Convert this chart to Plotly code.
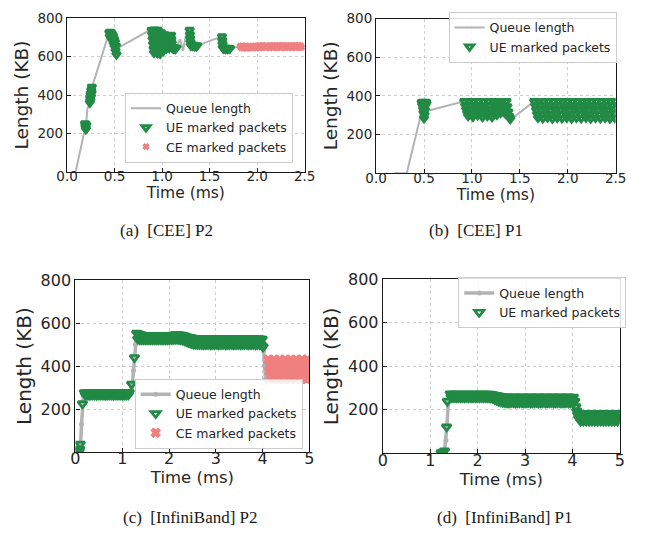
import plotly.graph_objects as go

FONT = "DejaVu Sans"
SERIF = "Liberation Serif"
GRAY = "#b3b3b6"
GREEN = "#218a45"
RED = "#f08080"

# ---------------- (a) [CEE] P2 ----------------
a_queue_t = [0.09, 0.19, 0.20, 0.215, 0.245, 0.265, 0.43, 0.46, 0.52, 0.88, 0.915, 0.925, 0.95, 0.955,
             0.98, 0.99, 1.015, 1.025, 1.045, 1.06, 1.075, 1.095, 1.15, 1.19, 1.22, 1.25, 1.29, 1.30,
             1.37, 1.60, 1.63, 1.64, 1.72, 1.80, 2.50]
a_queue_kb = [0, 230, 250, 330, 360, 445, 705, 725, 640, 740, 620, 740, 618, 738,
              615, 725, 630, 715, 642, 700, 645, 712, 646, 690, 630, 710, 738, 658,
              657, 700, 705, 648, 643, 652, 652]

a_ue_t = [0.190, 0.193, 0.196, 0.199, 0.202,
          0.240, 0.243, 0.246, 0.249, 0.252, 0.255, 0.258, 0.261,
          0.445, 0.450, 0.455, 0.460, 0.465, 0.470, 0.475, 0.480, 0.485, 0.490, 0.495, 0.500,
          0.505, 0.510, 0.515, 0.520,
          0.890, 0.895, 0.900, 0.905, 0.910, 0.915,
          0.925, 0.930, 0.935, 0.940, 0.945, 0.950,
          0.955, 0.960, 0.965, 0.970, 0.975, 0.980,
          0.990, 0.995, 1.000, 1.005, 1.010, 1.015,
          1.025, 1.030, 1.035, 1.040, 1.045,
          1.060, 1.065, 1.070, 1.075,
          1.095, 1.098, 1.101, 1.104, 1.110, 1.120, 1.130, 1.140, 1.150,
          1.290, 1.293, 1.296, 1.299, 1.302, 1.310, 1.320, 1.330, 1.340, 1.350, 1.360, 1.370,
          1.630, 1.633, 1.636, 1.639, 1.645, 1.655, 1.665, 1.675, 1.685, 1.695, 1.705, 1.715]
a_ue_kb = [252, 240, 230, 222, 245,
           360, 385, 372, 405, 392, 425, 412, 442,
           725, 705, 728, 700, 722, 690, 715, 680, 705, 665, 690, 650,
           675, 630, 655, 610,
           738, 715, 690, 665, 640, 620,
           740, 712, 688, 662, 640, 618,
           738, 710, 685, 660, 638, 615,
           725, 705, 685, 665, 648, 630,
           715, 695, 675, 658, 642,
           700, 680, 660, 645,
           712, 690, 670, 652, 645, 642, 645, 641, 646,
           738, 715, 695, 675, 658, 662, 656, 660, 655, 658, 654, 657,
           705, 685, 665, 648, 642, 645, 640, 644, 641, 645, 640, 643]

a_ce_t = [1.82, 1.83, 1.84, 1.85, 1.86, 1.87, 1.88, 1.89, 1.90, 1.91, 1.92, 1.93, 1.94, 1.95,
          1.96, 1.97, 1.98, 1.99, 2.00, 2.01, 2.02, 2.03, 2.04, 2.05, 2.06, 2.07, 2.08, 2.09,
          2.10, 2.11, 2.12, 2.13, 2.14, 2.15, 2.16, 2.17, 2.18, 2.19, 2.20, 2.21, 2.22, 2.23,
          2.24, 2.25, 2.26, 2.27, 2.28, 2.29, 2.30, 2.31, 2.32, 2.33, 2.34, 2.35, 2.36, 2.37,
          2.38, 2.39, 2.40, 2.41, 2.42, 2.43, 2.44, 2.45, 2.46, 2.47]
a_ce_kb = [654, 646, 655, 644, 653, 645, 656, 643, 652, 646,
           655, 644, 654, 645, 653, 647, 656, 644, 655, 648,
           657, 646, 656, 647, 658, 649, 656, 647, 657, 648,
           655, 646, 658, 649, 657, 647, 656, 648, 658, 646,
           657, 649, 656, 647, 658, 648, 657, 646, 656, 649,
           658, 647, 657, 648, 656, 646, 658, 649, 657, 647,
           656, 648, 658, 647, 657, 648]

# ---------------- (b) [CEE] P1 ----------------
b_queue_t = [0.19, 0.32, 0.475, 0.53, 0.92, 1.40, 1.42, 1.65, 2.50]
b_queue_kb = [0, 0, 318, 322, 372, 280, 282, 372, 330]

b_ue_t = [0.475, 0.480, 0.485, 0.490, 0.495, 0.500, 0.505, 0.510, 0.515, 0.520, 0.525, 0.490, 0.510, 0.500,
          0.92, 0.93, 0.94, 0.95, 0.96, 0.97, 0.98, 0.99, 1.00, 1.01,
          1.02, 1.03, 1.04, 1.05, 1.06, 1.07, 1.08, 1.09, 1.10, 1.11,
          1.12, 1.13, 1.14, 1.15, 1.16, 1.17, 1.18, 1.19, 1.20, 1.21,
          1.22, 1.23, 1.24, 1.25, 1.26, 1.27, 1.28, 1.29, 1.30,
          1.31, 1.32, 1.33, 1.34, 1.35, 1.36, 1.37, 1.38, 1.39, 1.40,
          1.65, 1.66, 1.67, 1.68, 1.69, 1.70, 1.71, 1.72, 1.73, 1.74,
          1.75, 1.76, 1.77, 1.78, 1.79, 1.80, 1.81, 1.82, 1.83, 1.84,
          1.85, 1.86, 1.87, 1.88, 1.89, 1.90, 1.91, 1.92, 1.93, 1.94,
          1.95, 1.96, 1.97, 1.98, 1.99, 2.00, 2.01, 2.02, 2.03, 2.04,
          2.05, 2.06, 2.07, 2.08, 2.09, 2.10, 2.11, 2.12, 2.13, 2.14,
          2.15, 2.16, 2.17, 2.18, 2.19, 2.20, 2.21, 2.22, 2.23, 2.24,
          2.25, 2.26, 2.27, 2.28, 2.29, 2.30, 2.31, 2.32, 2.33, 2.34,
          2.35, 2.36, 2.37, 2.38, 2.39, 2.40, 2.41, 2.42, 2.43, 2.44,
          2.45, 2.46, 2.47, 2.48, 2.49, 2.50]
b_ue_kb = [366, 352, 368, 332, 312, 284, 302, 326, 348, 368, 360, 358, 356, 338,
           372, 350, 330, 312, 296, 372, 350, 328, 308, 292,
           372, 352, 334, 318, 300, 372, 350, 330, 310, 290,
           372, 352, 332, 312, 295, 372, 350, 328, 308, 290,
           372, 354, 336, 318, 302, 372, 352, 332, 312,
           372, 355, 338, 322, 308, 372, 345, 318, 295, 280,
           372, 350, 328, 306, 286, 372, 350, 328, 306, 284,
           372, 352, 330, 308, 288, 372, 350, 326, 304, 282,
           372, 352, 330, 308, 287, 372, 350, 328, 305, 284,
           372, 351, 330, 308, 288, 372, 350, 327, 304, 283,
           372, 352, 330, 308, 286, 372, 350, 328, 306, 284,
           372, 352, 331, 309, 288, 372, 350, 327, 305, 283,
           372, 351, 330, 307, 286, 372, 350, 328, 305, 284,
           372, 352, 330, 308, 287, 372, 350, 327, 304, 283,
           372, 351, 329, 307, 286, 372]

# ---------------- (c) [InfiniBand] P2 ----------------
c_queue_t = [0.05, 0.09, 0.10, 0.11, 0.13, 0.15, 0.17, 0.19, 1.15, 1.18, 1.20, 1.22, 1.24, 1.26,
             1.28, 1.31, 3.97, 4.00, 4.02, 4.04, 4.06, 4.08, 5.00]
c_queue_kb = [0, 5, 15, 35, 130, 228, 262, 272, 272, 285, 300, 318, 380, 440,
              500, 550, 515, 505, 470, 400, 340, 330, 330]

c_ue_t = [0.08, 0.09, 0.10, 0.15, 1.20, 1.26, 4.01,
          # first plateau
          0.19, 0.21, 0.23, 0.25, 0.27, 0.29, 0.31, 0.33, 0.35, 0.37,
          0.39, 0.41, 0.43, 0.45, 0.47, 0.49, 0.51, 0.53, 0.55, 0.57,
          0.59, 0.61, 0.63, 0.65, 0.67, 0.69, 0.71, 0.73, 0.75, 0.77,
          0.79, 0.81, 0.83, 0.85, 0.87, 0.89, 0.91, 0.93, 0.95, 0.97,
          0.99, 1.01, 1.03, 1.05, 1.07, 1.09, 1.11, 1.13, 1.15,
          # second plateau
          1.31, 1.33, 1.35, 1.37, 1.39, 1.41, 1.43, 1.45, 1.47, 1.49,
          1.51, 1.53, 1.55, 1.57, 1.59, 1.61, 1.63, 1.65, 1.67, 1.69,
          1.71, 1.73, 1.75, 1.77, 1.79, 1.81, 1.83, 1.85, 1.87, 1.89,
          1.91, 1.93, 1.95, 1.97, 1.99, 2.01, 2.03, 2.05, 2.07, 2.09,
          2.11, 2.13, 2.15, 2.17, 2.19, 2.21, 2.23, 2.25, 2.27, 2.29,
          2.31, 2.33, 2.35, 2.37, 2.39, 2.41, 2.43, 2.45, 2.47, 2.49,
          2.51, 2.53, 2.55, 2.57, 2.59, 2.61, 2.63, 2.65, 2.67, 2.69,
          2.71, 2.73, 2.75, 2.77, 2.79, 2.81, 2.83, 2.85, 2.87, 2.89,
          2.91, 2.93, 2.95, 2.97, 2.99, 3.01, 3.03, 3.05, 3.07, 3.09,
          3.11, 3.13, 3.15, 3.17, 3.19, 3.21, 3.23, 3.25, 3.27, 3.29,
          3.31, 3.33, 3.35, 3.37, 3.39, 3.41, 3.43, 3.45, 3.47, 3.49,
          3.51, 3.53, 3.55, 3.57, 3.59, 3.61, 3.63, 3.65, 3.67, 3.69,
          3.71, 3.73, 3.75, 3.77, 3.79, 3.81, 3.83, 3.85, 3.87, 3.89,
          3.91, 3.93, 3.95, 3.97, 3.99]
c_ue_kb = [4, 14, 37, 225, 316, 440, 490,
           277, 266, 276, 267, 277, 265, 276, 266, 277, 267,
           276, 266, 277, 265, 276, 267, 277, 266, 276, 266,
           277, 267, 276, 265, 277, 266, 276, 267, 277, 266,
           276, 265, 277, 267, 276, 266, 277, 266, 276, 267,
           277, 265, 276, 266, 277, 267, 276, 266, 277,
           553, 526, 550, 524, 546, 524, 544, 523, 542, 524,
           542, 523, 541, 524, 542, 524, 541, 523, 542, 524,
           541, 523, 542, 524, 541, 524, 542, 523, 541, 524,
           542, 524, 542, 523, 543, 524, 543, 525, 544, 525,
           545, 526, 546, 526, 546, 525, 545, 524, 544, 522,
           542, 519, 539, 515, 536, 511, 534, 508, 532, 505,
           530, 503, 529, 502, 528, 501, 528, 501, 527, 502,
           528, 500, 528, 501, 527, 501, 528, 502, 528, 500,
           527, 501, 528, 501, 528, 502, 527, 500, 528, 501,
           528, 501, 527, 502, 528, 500, 528, 501, 527, 501,
           528, 502, 528, 500, 527, 501, 528, 501, 528, 502,
           527, 500, 528, 501, 528, 501, 527, 502, 528, 500,
           528, 501, 527, 501, 528, 502, 528, 500, 527, 501,
           528, 501, 527, 499, 526]

c_ce_t = [4.12, 4.14, 4.16, 4.18, 4.20, 4.22, 4.24, 4.26, 4.28, 4.30, 4.32, 4.34, 4.36, 4.38, 4.40,
          4.42, 4.44, 4.46, 4.48, 4.50, 4.52, 4.54, 4.56, 4.58, 4.60, 4.62, 4.64, 4.66, 4.68, 4.70,
          4.72, 4.74, 4.76, 4.78, 4.80, 4.82, 4.84, 4.86, 4.88, 4.90, 4.92, 4.94, 4.96, 4.98, 5.00]
c_ce_kb = [430, 376, 412, 358, 394, 340, 430, 376, 412, 358, 394, 340, 430, 376, 412,
           358, 394, 340, 430, 376, 412, 358, 394, 340, 430, 376, 412, 358, 394, 340,
           430, 376, 412, 358, 394, 340, 430, 376, 412, 358, 394, 340, 430, 376, 412]

# ---------------- (d) [InfiniBand] P1 ----------------
d_queue_t = [1.18, 1.25, 1.30, 1.33, 1.35, 1.38, 1.42, 4.02, 4.06, 4.10, 4.14, 5.00]
d_queue_kb = [0, 3, 10, 60, 120, 235, 272, 262, 230, 190, 165, 165]

d_ue_t = [1.23, 1.27, 1.30, 1.345, 1.36,
          1.42, 1.44, 1.46, 1.48, 1.50, 1.52, 1.54, 1.56, 1.58, 1.60,
          1.62, 1.64, 1.66, 1.68, 1.70, 1.72, 1.74, 1.76, 1.78, 1.80,
          1.82, 1.84, 1.86, 1.88, 1.90, 1.92, 1.94, 1.96, 1.98, 2.00,
          2.02, 2.04, 2.06, 2.08, 2.10, 2.12, 2.14, 2.16, 2.18, 2.20,
          2.22, 2.24, 2.26, 2.28, 2.30, 2.32, 2.34, 2.36, 2.38, 2.40,
          2.42, 2.44, 2.46, 2.48, 2.50, 2.52, 2.54, 2.56, 2.58, 2.60,
          2.62, 2.64, 2.66, 2.68, 2.70, 2.72, 2.74, 2.76, 2.78, 2.80,
          2.82, 2.84, 2.86, 2.88, 2.90, 2.92, 2.94, 2.96, 2.98, 3.00,
          3.02, 3.04, 3.06, 3.08, 3.10, 3.12, 3.14, 3.16, 3.18, 3.20,
          3.22, 3.24, 3.26, 3.28, 3.30, 3.32, 3.34, 3.36, 3.38, 3.40,
          3.42, 3.44, 3.46, 3.48, 3.50, 3.52, 3.54, 3.56, 3.58, 3.60,
          3.62, 3.64, 3.66, 3.68, 3.70, 3.72, 3.74, 3.76, 3.78, 3.80,
          3.82, 3.84, 3.86, 3.88, 3.90, 3.92, 3.94, 3.96, 3.98, 4.00,
          4.02,
          4.05, 4.07, 4.09, 4.11, 4.13,
          4.15, 4.17, 4.19, 4.21, 4.23, 4.25, 4.27, 4.29, 4.31, 4.33,
          4.35, 4.37, 4.39, 4.41, 4.43, 4.45, 4.47, 4.49, 4.51, 4.53,
          4.55, 4.57, 4.59, 4.61, 4.63, 4.65, 4.67, 4.69, 4.71, 4.73,
          4.75, 4.77, 4.79, 4.81, 4.83, 4.85, 4.87, 4.89, 4.91, 4.93,
          4.95, 4.97, 4.99]
d_ue_kb = [3, 6, 12, 122, 240,
           274, 258, 273, 257, 272, 258, 272, 257, 273, 258,
           272, 257, 272, 258, 273, 257, 272, 258, 272, 257,
           273, 258, 272, 257, 272, 258, 273, 257, 272, 258,
           272, 257, 273, 258, 272, 257, 272, 258, 273, 257,
           272, 257, 272, 256, 271, 253, 269, 249, 267, 245,
           265, 241, 263, 238, 261, 236, 260, 235, 259, 234,
           260, 233, 259, 234, 258, 235, 259, 234, 260, 233,
           259, 234, 258, 234, 259, 235, 260, 233, 259, 234,
           258, 234, 259, 235, 260, 233, 259, 234, 258, 234,
           259, 235, 260, 233, 259, 234, 258, 234, 259, 235,
           260, 233, 259, 234, 258, 234, 259, 235, 260, 233,
           259, 234, 258, 234, 259, 235, 260, 233, 259, 234,
           258, 234, 259, 235, 260, 233, 259, 234, 258, 234,
           259,
           240, 215, 195, 178, 162,
           184, 149, 166, 184, 149, 166, 184, 149, 166, 184,
           149, 166, 184, 149, 166, 184, 149, 166, 184, 149,
           166, 184, 149, 166, 184, 149, 166, 184, 149, 166,
           184, 149, 166, 184, 149, 166, 184, 149, 166, 184,
           149, 166, 184]

# ---------------- figure ----------------
fig = go.Figure()


def add_panel(n, q_t, q_kb, ue_t, ue_kb, ce_t=None, ce_kb=None, dotted_queue=False,
              ue_size=7, ue_width=2.2, ce_size=6):
    ax = "" if n == 1 else str(n)
    leg = "legend" if n == 1 else f"legend{n}"
    fig.add_trace(go.Scatter(
        x=q_t, y=q_kb, name="Queue length", xaxis="x" + ax, yaxis="y" + ax, legend=leg,
        mode="lines+markers" if dotted_queue else "lines",
        line=dict(color=GRAY, width=3.5 if dotted_queue else 2),
        marker=dict(color=GRAY, size=5, symbol="circle")))
    fig.add_trace(go.Scatter(
        x=ue_t, y=ue_kb, name="UE marked packets", xaxis="x" + ax, yaxis="y" + ax, legend=leg,
        mode="markers",
        marker=dict(symbol="triangle-down-open", size=ue_size, color=GREEN,
                    line=dict(width=ue_width, color=GREEN))))
    if ce_t is not None:
        fig.add_trace(go.Scatter(
            x=ce_t, y=ce_kb, name="CE marked packets", xaxis="x" + ax, yaxis="y" + ax, legend=leg,
            mode="markers",
            marker=dict(symbol="x", size=ce_size, color=RED, line=dict(width=1.2, color=RED))))


add_panel(1, a_queue_t, a_queue_kb, a_ue_t, a_ue_kb, a_ce_t, a_ce_kb, ue_size=7, ue_width=3.0, ce_size=5)
add_panel(2, b_queue_t, b_queue_kb, b_ue_t, b_ue_kb, ue_size=7, ue_width=3.0)
add_panel(3, c_queue_t, c_queue_kb, c_ue_t, c_ue_kb, c_ce_t, c_ce_kb, dotted_queue=True,
          ue_size=8, ue_width=2.7, ce_size=8)
add_panel(4, d_queue_t, d_queue_kb, d_ue_t, d_ue_kb, dotted_queue=True, ue_size=8, ue_width=2.7)

INK = "#262626"
axis_common = dict(showline=True, linecolor="#1a1a1a", linewidth=1.3, mirror=True,
                   ticks="inside", ticklen=4, tickcolor="#1a1a1a", tickwidth=1,
                   showgrid=True, gridcolor="#cdcdcd", griddash="dot", gridwidth=1,
                   zeroline=False)

short_ticks = [0, 0.5, 1.0, 1.5, 2.0, 2.5]
short_text = ["0.0", "0.5", "1.0", "1.5", "2.0", "2.5"]
long_ticks = [0, 1, 2, 3, 4, 5]
long_text = ["0", "1", "2", "3", "4", "5"]
kb_ticks = [200, 400, 600, 800]

panels = {
    1: dict(xd=[0.0898, 0.4706], yd=[0.6891, 0.9826], xr=[0, 2.5], xt=short_ticks, xl=short_text,
            tick=13.5, xtitle=15.5, ytitle=18.5),
    2: dict(xd=[0.5851, 0.9690], yd=[0.6867, 0.9818], xr=[0, 2.5], xt=short_ticks, xl=short_text,
            tick=13.5, xtitle=15.5, ytitle=18.5),
    3: dict(xd=[0.1033, 0.4783], yd=[0.1544, 0.4827], xr=[0, 5], xt=long_ticks, xl=long_text,
            tick=16, xtitle=16.5, ytitle=20),
    4: dict(xd=[0.5960, 0.9757], yd=[0.1520, 0.4840], xr=[0, 5], xt=long_ticks, xl=long_text,
            tick=16, xtitle=16.5, ytitle=20),
}

layout_axes = {}
for n, p in panels.items():
    ax = "" if n == 1 else str(n)
    tf = dict(family=FONT, size=p["tick"], color=INK)
    layout_axes["xaxis" + ax] = dict(axis_common, domain=p["xd"], range=p["xr"], tickvals=p["xt"],
                                     ticktext=p["xl"], anchor="y" + ax, tickfont=tf,
                                     ticklabelstandoff=-8,
                                     title=dict(text="Time (ms)", standoff=1,
                                                font=dict(family=FONT, size=p["xtitle"], color=INK)))
    layout_axes["yaxis" + ax] = dict(axis_common, domain=p["yd"], range=[0, 800], tickvals=kb_ticks,
                                     anchor="x" + ax, tickfont=tf,
                                     title=dict(text="Length (KB)", standoff=3,
                                                font=dict(family=FONT, size=p["ytitle"], color=INK)))

legend_common = dict(xanchor="left", yanchor="top", bgcolor="rgba(255,255,255,0.85)",
                     bordercolor="#cccccc", borderwidth=1,
                     font=dict(family=FONT, size=12.5, color=INK), tracegroupgap=0)

fig.update_layout(
    width=646, height=533, autosize=False,
    margin=dict(l=0, r=0, t=0, b=0),
    paper_bgcolor="white", plot_bgcolor="white",
    showlegend=True,
    legend=dict(legend_common, x=0.1827, y=0.8405),
    legend2=dict(legend_common, x=0.7012, y=0.9944),
    legend3=dict(legend_common, x=0.1982, y=0.2945),
    legend4=dict(legend_common, x=0.7167, y=0.4878),
    **layout_axes,
)

captions = [
    ("(a)\u00a0\u00a0[CEE]\u00a0P2", 161, 225),
    ("(b)\u00a0\u00a0[CEE]\u00a0P1", 481, 225),
    ("(c)\u00a0\u00a0[InfiniBand]\u00a0P2", 186, 517),
    ("(d)\u00a0\u00a0[InfiniBand]\u00a0P1", 511, 517),
]
for text, px, py in captions:
    fig.add_annotation(text=text, x=px / 646, y=1 - py / 533, xref="paper", yref="paper",
                       xanchor="center", yanchor="middle", showarrow=False,
                       font=dict(family=SERIF, size=17, color="#1a1a1a"))

fig.write_html("out.html")
